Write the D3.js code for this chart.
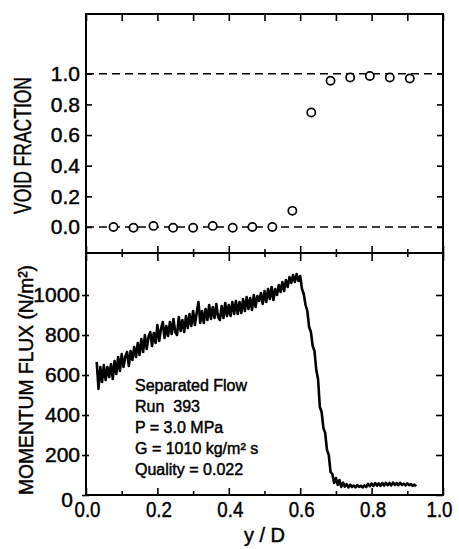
<!DOCTYPE html>
<html>
<head>
<meta charset="utf-8">
<script src="https://cdn.jsdelivr.net/npm/d3@7"></script>
<style>
  html, body { margin: 0; padding: 0; background: #fff; }
  svg { display: block; }
  text { font-family: "Liberation Sans", Arial, sans-serif; fill: #000; stroke: #000; stroke-width: 0.45px; }
</style>
</head>
<body>
<svg id="chart" width="459" height="549"></svg>
<script>
// Void fraction measured across the channel (open circles)
const voidY = [0.077, 0.133, 0.189, 0.244, 0.300, 0.355, 0.411, 0.466, 0.522, 0.578, 0.631, 0.685, 0.740, 0.795, 0.851, 0.907];
const voidFraction = [0.00, -0.005, 0.007, -0.005, -0.005, 0.007, -0.005, 0.00, 0.00, 0.105, 0.747, 0.954, 0.976, 0.985, 0.976, 0.969];

// Momentum flux traverse (N/m^2) sampled along y/D
const fluxY = [
  0.030, 0.035, 0.040, 0.045, 0.050, 0.055, 0.060, 0.065, 0.070, 0.075,
  0.080, 0.085, 0.090, 0.095, 0.100, 0.105, 0.110, 0.115, 0.120, 0.125,
  0.130, 0.135, 0.140, 0.145, 0.150, 0.155, 0.160, 0.165, 0.170, 0.175,
  0.180, 0.185, 0.190, 0.195, 0.200, 0.205, 0.210, 0.215, 0.220, 0.225,
  0.230, 0.235, 0.240, 0.245, 0.250, 0.255, 0.260, 0.265, 0.270, 0.275,
  0.280, 0.285, 0.290, 0.295, 0.300, 0.305, 0.310, 0.315, 0.320, 0.325,
  0.330, 0.335, 0.340, 0.345, 0.350, 0.355, 0.360, 0.365, 0.370, 0.375,
  0.380, 0.385, 0.390, 0.395, 0.400, 0.405, 0.410, 0.415, 0.420, 0.425,
  0.430, 0.435, 0.440, 0.445, 0.450, 0.455, 0.460, 0.465, 0.470, 0.475,
  0.480, 0.485, 0.490, 0.495, 0.500, 0.505, 0.510, 0.515, 0.520, 0.525,
  0.530, 0.535, 0.540, 0.545, 0.550, 0.555, 0.560, 0.565, 0.570, 0.575,
  0.580, 0.585, 0.590, 0.595, 0.600, 0.605, 0.610, 0.615, 0.620, 0.625,
  0.630, 0.635, 0.640, 0.645, 0.650, 0.655, 0.660, 0.665, 0.670, 0.675,
  0.680, 0.685, 0.690, 0.695, 0.700, 0.705, 0.710, 0.715, 0.720, 0.725,
  0.730, 0.735, 0.740, 0.745, 0.750, 0.755, 0.760, 0.765, 0.770, 0.775,
  0.780, 0.785, 0.790, 0.795, 0.800, 0.805, 0.810, 0.815, 0.820, 0.825,
  0.830, 0.835, 0.840, 0.845, 0.850, 0.855, 0.860, 0.865, 0.870, 0.875,
  0.880, 0.885, 0.890, 0.895, 0.900, 0.905, 0.910, 0.915, 0.920, 0.925
];
const momentumFlux = [
  665, 530, 640, 565, 650, 575, 640, 590, 655, 580,
  670, 605, 690, 620, 705, 640, 690, 715, 645, 720,
  675, 740, 690, 760, 700, 780, 715, 800, 730, 790,
  815, 745, 810, 760, 850, 770, 830, 865, 785, 845,
  795, 865, 805, 880, 815, 800, 890, 820, 875, 815,
  895, 835, 905, 845, 920, 850, 910, 965, 860, 920,
  860, 930, 875, 950, 880, 940, 885, 955, 890, 875,
  945, 885, 960, 895, 950, 895, 965, 905, 970, 905,
  965, 910, 980, 920, 990, 930, 985, 925, 1000, 940,
  995, 970, 1010, 955, 1020, 965, 1030, 980, 1040, 975,
  1030, 1000, 1050, 1015, 1065, 1020, 1075, 1040, 1090, 1060,
  1100, 1065, 1105, 1070, 1095, 1030, 1005, 950, 920, 840,
  815, 745, 720, 625, 580, 440, 415, 335, 310, 225,
  200, 115, 105, 60, 85, 50, 75, 40, 62, 42,
  55, 38, 52, 40, 47, 38, 50, 40, 46, 38,
  48, 40, 56, 44, 57, 45, 60, 47, 58, 46,
  60, 47, 61, 49, 60, 48, 62, 50, 59, 49,
  61, 50, 56, 48, 58, 49, 55, 46, 52, 44
];

// Axis ticks and labels
const xMajorTicks = [0, 0.2, 0.4, 0.6, 0.8, 1.0];
const xMajorLabels = ["0.0", "0.2", "0.4", "0.6", "0.8", "1.0"];
const xMinorTicks = [0.1, 0.3, 0.5, 0.7, 0.9];
const voidTicks = [0, 0.2, 0.4, 0.6, 0.8, 1.0];
const voidLabels = ["0.0", "0.2", "0.4", "0.6", "0.8", "1.0"];
const voidGuides = [0, 1.0];
const fluxTicks = [0, 200, 400, 600, 800, 1000];
const fluxLabels = ["0", "200", "400", "600", "800", "1000"];

const annotation = ["Separated Flow", "Run\u00A0\u00A0393", "P = 3.0 MPa", "G = 1010 kg/m\u00B2 s", "Quality = 0.022"];

const svg = d3.select("#chart");

const left = 86, right = 443;
const topY0 = 14, split = 253, botY1 = 495;

const x = d3.scaleLinear().domain([0, 1]).range([left, right]);
const yVoid = d3.scaleLinear().domain([-0.17, 1.39]).range([split, topY0]);
const yFlux = d3.scaleLinear().domain([0, 1210]).range([botY1, split]);

function cleanAxis(g) {
  g.select(".domain").remove();
  g.selectAll(".tick line").attr("stroke", "#000").attr("stroke-width", 1.6);
}

// ---------- upper panel: void fraction ----------
const upper = svg.append("g");

upper.selectAll("line.guide").data(voidGuides).join("line")
  .attr("class", "guide")
  .attr("x1", left).attr("x2", right)
  .attr("y1", d => yVoid(d)).attr("y2", d => yVoid(d))
  .attr("stroke", "#000").attr("stroke-width", 1.5)
  .attr("stroke-dasharray", "8,5");

upper.append("g").attr("transform", `translate(${left},0)`)
  .call(d3.axisLeft(yVoid).tickValues(voidTicks).tickSize(-6).tickPadding(6)
    .tickFormat((d, i) => voidLabels[i]))
  .call(cleanAxis)
  .call(g => g.selectAll("text").attr("font-size", 21));

upper.append("g").attr("transform", `translate(${right},0)`)
  .call(d3.axisRight(yVoid).tickValues(voidTicks).tickSize(-6).tickFormat(""))
  .call(cleanAxis);

upper.append("g").attr("transform", `translate(0,${topY0})`)
  .call(d3.axisTop(x).tickValues(xMajorTicks.concat(xMinorTicks)).tickSize(-7).tickFormat(""))
  .call(cleanAxis);

upper.append("g").attr("transform", `translate(0,${split})`)
  .call(d3.axisBottom(x).tickValues(xMajorTicks).tickSize(-7).tickFormat(""))
  .call(cleanAxis);
upper.append("g").attr("transform", `translate(0,${split})`)
  .call(d3.axisBottom(x).tickValues(xMinorTicks).tickSize(-4).tickFormat(""))
  .call(cleanAxis);

upper.selectAll("circle").data(voidY).join("circle")
  .attr("cx", d => x(d))
  .attr("cy", (d, i) => yVoid(voidFraction[i]))
  .attr("r", 4.1)
  .attr("fill", "#fff").attr("stroke", "#000").attr("stroke-width", 1.7);

upper.append("rect")
  .attr("x", left).attr("y", topY0)
  .attr("width", right - left).attr("height", split - topY0)
  .attr("fill", "none").attr("stroke", "#000").attr("stroke-width", 2);

upper.append("text")
  .attr("transform", `translate(31,${(topY0 + split) / 2 + 12}) rotate(-90)`)
  .attr("text-anchor", "middle")
  .attr("font-size", 24)
  .attr("textLength", 137).attr("lengthAdjust", "spacingAndGlyphs")
  .text("VOID FRACTION");

// ---------- lower panel: momentum flux ----------
const lower = svg.append("g");

lower.append("g").attr("transform", `translate(${left},0)`)
  .call(d3.axisLeft(yFlux).tickValues(fluxTicks).tickSize(4).tickPadding(2)
    .tickFormat((d, i) => fluxLabels[i]))
  .call(cleanAxis)
  .call(g => g.selectAll(".tick line").attr("x2", 3).attr("x1", -4))
  .call(g => g.selectAll("text").attr("font-size", 21))
  .call(g => g.selectAll(".tick").filter(d => d === 0).select("text")
    .attr("x", -13).attr("dy", "0.55em"));

lower.append("g").attr("transform", `translate(${right},0)`)
  .call(d3.axisRight(yFlux).tickValues(fluxTicks).tickSize(-7).tickFormat(""))
  .call(cleanAxis);

lower.append("g").attr("transform", `translate(0,${split})`)
  .call(d3.axisTop(x).tickValues(xMajorTicks).tickSize(-8).tickFormat(""))
  .call(cleanAxis);
lower.append("g").attr("transform", `translate(0,${split})`)
  .call(d3.axisTop(x).tickValues(xMinorTicks).tickSize(-4).tickFormat(""))
  .call(cleanAxis);

lower.append("g").attr("transform", `translate(0,${botY1})`)
  .call(d3.axisBottom(x).tickValues(xMajorTicks).tickSize(-7).tickPadding(6)
    .tickFormat((d, i) => xMajorLabels[i]))
  .call(cleanAxis)
  .call(g => g.selectAll("text").attr("font-size", 22)
    .attr("dx", d => d === 1 ? -4 : 1)
    .attr("textLength", 26).attr("lengthAdjust", "spacingAndGlyphs"));
lower.append("g").attr("transform", `translate(0,${botY1})`)
  .call(d3.axisBottom(x).tickValues(xMinorTicks).tickSize(-4).tickFormat(""))
  .call(cleanAxis);

const fluxLine = d3.line()
  .x(d => x(d[0]))
  .y(d => yFlux(d[1]));

lower.append("path")
  .datum(fluxY.map((v, i) => [v, momentumFlux[i]]))
  .attr("d", fluxLine)
  .attr("fill", "none").attr("stroke", "#000")
  .attr("stroke-width", 2.6).attr("stroke-linejoin", "round");

lower.append("rect")
  .attr("x", left).attr("y", split)
  .attr("width", right - left).attr("height", botY1 - split)
  .attr("fill", "none").attr("stroke", "#000").attr("stroke-width", 2);

lower.append("text")
  .attr("transform", `translate(33,${(split + botY1) / 2 + 6}) rotate(-90)`)
  .attr("text-anchor", "middle")
  .attr("font-size", 20)
  .attr("textLength", 230).attr("lengthAdjust", "spacingAndGlyphs")
  .text("MOMENTUM FLUX (N/m\u00B2)");

lower.selectAll("text.note").data(annotation).join("text")
  .attr("class", "note")
  .attr("x", 135)
  .attr("y", (d, i) => 391 + i * 21)
  .attr("font-size", 16)
  .text(d => d);

svg.append("text")
  .attr("x", (left + right) / 2)
  .attr("y", 542)
  .attr("text-anchor", "middle")
  .attr("font-size", 20)
  .text("y / D");
</script>
</body>
</html>
